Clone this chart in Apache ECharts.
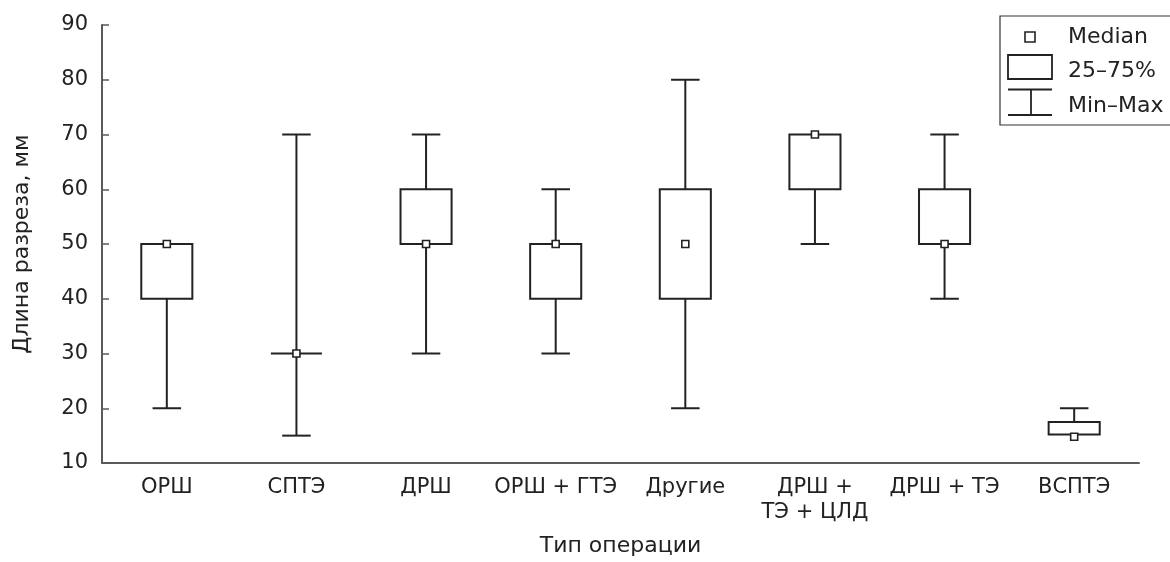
<!DOCTYPE html>
<html>
<head>
<meta charset="utf-8">
<script src="https://cdn.jsdelivr.net/npm/echarts@6/dist/echarts.min.js"></script>
<style>html,body{margin:0;padding:0;background:#fff}#c{width:1170px;height:562px}</style>
</head>
<body>
<div id="c"></div>
<script>
const categories = ['ОРШ', 'СПТЭ', 'ДРШ', 'ОРШ + ГТЭ', 'Другие', 'ДРШ +\nТЭ + ЦЛД', 'ДРШ + ТЭ', 'ВСПТЭ'];
const minValues    = [20, 15, 30, 30, 20, 50, 40, 15.2];
const q1Values     = [40, 30, 50, 40, 40, 60, 50, 15.2];
const medianValues = [50, 30, 50, 50, 50, 70, 50, 14.8];
const q3Values     = [50, 30, 60, 50, 60, 70, 60, 17.5];
const maxValues    = [50, 70, 70, 60, 80, 70, 70, 20];
const yTicks = [10, 20, 30, 40, 50, 60, 70, 80, 90];

const INK = '#222222';
const FONT = '"DejaVu Sans", sans-serif';

const data = categories.map((c, i) => [i, minValues[i], q1Values[i], medianValues[i], q3Values[i], maxValues[i]]);

function renderItem(params, api) {
  const idx = api.value(0);
  const vMin = api.value(1), vQ1 = api.value(2), vMed = api.value(3), vQ3 = api.value(4), vMax = api.value(5);
  const band = api.size([1, 0])[0];
  const bw = band * 0.394, cw = band * 0.22, sq = 7;
  const pMin = api.coord([idx, vMin]), pQ1 = api.coord([idx, vQ1]), pMed = api.coord([idx, vMed]);
  const pQ3 = api.coord([idx, vQ3]), pMax = api.coord([idx, vMax]);
  const x = pQ1[0];
  const st = {stroke: INK, lineWidth: 2, fill: null};
  const ch = [];
  if (vMax > vQ3) {
    ch.push({type: 'line', shape: {x1: x, y1: pQ3[1], x2: x, y2: pMax[1]}, style: st});
    ch.push({type: 'line', shape: {x1: x - cw / 2, y1: pMax[1], x2: x + cw / 2, y2: pMax[1]}, style: st});
  }
  if (vMin < vQ1) {
    ch.push({type: 'line', shape: {x1: x, y1: pQ1[1], x2: x, y2: pMin[1]}, style: st});
    ch.push({type: 'line', shape: {x1: x - cw / 2, y1: pMin[1], x2: x + cw / 2, y2: pMin[1]}, style: st});
  }
  if (vQ3 > vQ1) {
    ch.push({type: 'rect', shape: {x: x - bw / 2, y: pQ3[1], width: bw, height: pQ1[1] - pQ3[1]}, style: {stroke: INK, lineWidth: 2, fill: '#fff'}});
  } else {
    ch.push({type: 'line', shape: {x1: x - bw / 2, y1: pQ1[1], x2: x + bw / 2, y2: pQ1[1]}, style: st});
  }
  ch.push({type: 'rect', shape: {x: x - sq / 2, y: pMed[1] - sq / 2, width: sq, height: sq}, style: {stroke: INK, lineWidth: 1.6, fill: '#fff'}});
  return {type: 'group', children: ch};
}

const chart = echarts.init(document.getElementById('c'), null, {renderer: 'canvas'});
chart.setOption({
  animation: false,
  backgroundColor: '#fff',
  grid: {left: 102, right: 31, top: 25, bottom: 94, containLabel: false},
  xAxis: {
    type: 'category',
    data: categories,
    boundaryGap: true,
    name: 'Тип операции',
    nameLocation: 'middle',
    nameGap: 72,
    nameTextStyle: {fontFamily: FONT, fontSize: 22, color: INK},
    axisLine: {lineStyle: {color: '#5a5a5a', width: 2}},
    axisTick: {inside: true, alignWithLabel: true, length: 7, lineStyle: {color: '#5a5a5a', width: 1.5}},
    axisLabel: {fontFamily: FONT, fontSize: 21, color: INK, margin: 12, lineHeight: 25, interval: 0},
    splitLine: {show: false}
  },
  yAxis: {
    type: 'value',
    min: yTicks[0],
    max: yTicks[yTicks.length - 1],
    interval: 10,
    name: 'Длина разреза, мм',
    nameLocation: 'middle',
    nameRotate: 90,
    nameGap: 69,
    nameTextStyle: {fontFamily: FONT, fontSize: 22, color: INK},
    axisLine: {show: true, lineStyle: {color: '#5a5a5a', width: 2}},
    axisTick: {show: true, inside: true, length: 7, lineStyle: {color: '#5a5a5a', width: 1.5}},
    axisLabel: {fontFamily: FONT, fontSize: 21, color: INK, margin: 14},
    splitLine: {show: false}
  },
  series: [{
    type: 'custom',
    renderItem: renderItem,
    data: data,
    encode: {x: 0, y: [1, 2, 3, 4, 5]},
    z: 5
  }],
  graphic: [
    {type: 'rect', shape: {x: 1000, y: 16, width: 190, height: 109}, style: {stroke: '#333', lineWidth: 1.2, fill: '#fff'}, z: 10},
    {type: 'rect', shape: {x: 1025, y: 32, width: 10, height: 10}, style: {stroke: INK, lineWidth: 1.6, fill: '#fff'}, z: 11},
    {type: 'rect', shape: {x: 1008, y: 55, width: 44, height: 24}, style: {stroke: INK, lineWidth: 1.8, fill: '#fff'}, z: 11},
    {type: 'line', shape: {x1: 1008, y1: 89.5, x2: 1052, y2: 89.5}, style: {stroke: INK, lineWidth: 1.8}, z: 11},
    {type: 'line', shape: {x1: 1008, y1: 115, x2: 1052, y2: 115}, style: {stroke: INK, lineWidth: 1.8}, z: 11},
    {type: 'line', shape: {x1: 1031, y1: 89.5, x2: 1031, y2: 115}, style: {stroke: INK, lineWidth: 1.8}, z: 11},
    {type: 'text', x: 1068, y: 37, style: {text: 'Median', font: '22px ' + FONT, fill: INK, verticalAlign: 'middle'}, z: 11},
    {type: 'text', x: 1068, y: 71, style: {text: '25–75%', font: '22px ' + FONT, fill: INK, verticalAlign: 'middle'}, z: 11},
    {type: 'text', x: 1068, y: 106, style: {text: 'Min–Max', font: '22px ' + FONT, fill: INK, verticalAlign: 'middle'}, z: 11}
  ]
});
</script>
</body>
</html>
